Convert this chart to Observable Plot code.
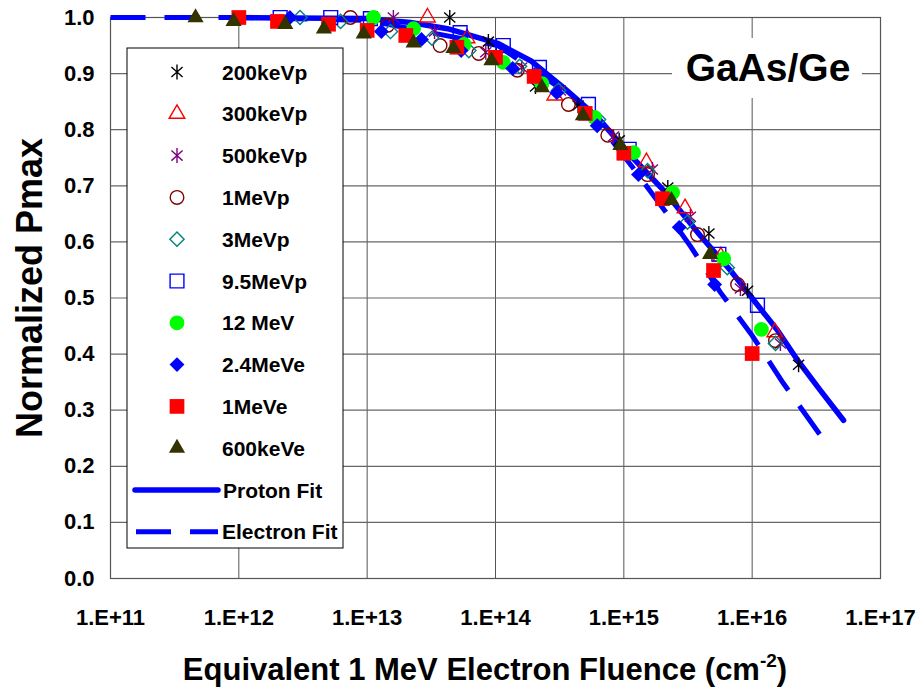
<!DOCTYPE html>
<html><head><meta charset="utf-8">
<script src="https://cdn.jsdelivr.net/npm/d3@7"></script>
<script src="https://cdn.jsdelivr.net/npm/@observablehq/plot@0.6"></script>
<style>
body{margin:0;background:#fff;}
#chart{width:922px;height:688px;}
</style></head><body><div id="chart"></div>
<script>
// ---- tick values ----
const xTicks = [1e11, 1e12, 1e13, 1e14, 1e15, 1e16, 1e17];
const yTicks = [0, 0.1, 0.2, 0.3, 0.4, 0.5, 0.6, 0.7, 0.8, 0.9, 1.0];

// ---- series: [fluence, normalized Pmax] ----
const p200keVp = [[4.4e13,1.0],[8.8e13,0.957],[2.05e14,0.877],[4.4e14,0.843],[9.2e14,0.781],[2.2e15,0.697],[4.6e15,0.615],[9.2e15,0.513],[2.3e16,0.381]];
const p300keVp = [[2.95e13,1.0],[6.0e13,0.963],[2.9e14,0.861],[1.5e15,0.742],[3.0e15,0.66],[5.7e15,0.574],[1.5e16,0.439]];
const p500keVp = [[1.6e13,1.0],[3.35e13,0.975],[8.4e13,0.938],[1.6e14,0.911],[3.2e14,0.87],[8.3e14,0.788],[1.67e15,0.729],[3.3e15,0.645],[8.1e15,0.517],[1.66e16,0.419]];
const p1MeVp = [[7.4e12,1.0],[1.44e13,0.986],[3.7e13,0.95],[7.4e13,0.936],[1.48e14,0.906],[3.7e14,0.845],[7.5e14,0.79],[1.53e15,0.72],[3.75e15,0.613],[7.7e15,0.524],[1.52e16,0.424]];
const p3MeVp = [[3.0e12,1.0],[6.2e12,0.993],[1.52e13,0.975],[3.2e13,0.963],[6.2e13,0.941],[1.54e14,0.913],[3.1e14,0.87],[6.35e14,0.818],[1.53e15,0.727],[3.13e15,0.635],[6.4e15,0.554],[1.52e16,0.419]];
const p9_5MeVp = [[2.1e12,1.0],[5.2e12,1.0],[1.06e13,0.998],[5.3e13,0.973],[1.15e14,0.95],[2.2e14,0.911],[5.3e14,0.845],[1.1e15,0.765],[5.5e15,0.578],[1.1e16,0.487]];
const p12MeV = [[1.12e13,1.0],[2.3e13,0.98],[5.7e13,0.952],[1.15e14,0.92],[2.3e14,0.882],[5.9e14,0.822],[1.19e15,0.759],[2.4e15,0.688],[6.0e15,0.57],[1.18e16,0.444]];
const e2_4MeVe = [[2.5e12,1.0],[1.29e13,0.975],[2.65e13,0.961],[5.4e13,0.941],[1.36e14,0.909],[3.0e14,0.866],[6.2e14,0.807],[1.3e15,0.72],[2.7e15,0.626],[5.1e15,0.524]];
const e1MeVe = [[1e12,1.0],[2e12,0.993],[5e12,0.988],[1e13,0.977],[2e13,0.968],[5e13,0.947],[1e14,0.929],[2e14,0.895],[5e14,0.829],[1e15,0.758],[2e15,0.677],[5e15,0.549],[1e16,0.401]];
const e600keVe = [[4.6e11,1.0],[9.1e11,0.993],[2.3e12,0.988],[4.6e12,0.98],[9.4e12,0.971],[2.3e13,0.955],[4.7e13,0.945],[9.3e13,0.923],[2.3e14,0.875],[4.8e14,0.825],[9.4e14,0.772],[2.35e15,0.674],[4.7e15,0.578]];

// ---- fits ----
const protonFit = [[1e12,1.0],[1e13,0.998],[2.18e13,0.991],[4.23e13,0.98],[1.04e14,0.954],[1.88e14,0.923],[3.39e14,0.875],[6.24e14,0.822],[1.13e15,0.754],[2.04e15,0.692],[3.95e15,0.611],[6.78e15,0.549],[1.03e16,0.496],[1.58e16,0.442],[2.26e16,0.389],[3.41e16,0.335],[5.15e16,0.282]];
const electronFit = [[1e11,1.0],[1e12,1.0],[1e13,0.995],[1.04e14,0.95],[3.39e14,0.87],[6.24e14,0.813],[1.17e15,0.733],[2.58e15,0.627],[3.31e15,0.592],[5.66e15,0.51],[1.0e16,0.433],[1.75e16,0.348],[3.41e16,0.255]];

// custom asterisk (vertical bar + X)
const star = {draw(ctx, size){
  const r = Math.sqrt(size / Math.PI);
  const dx = r * Math.cos(Math.PI/4.3), dy = r * Math.sin(Math.PI/4.3);
  ctx.moveTo(0,-r); ctx.lineTo(0,r);
  ctx.moveTo(-dx,-dy); ctx.lineTo(dx,dy);
  ctx.moveTo(-dx,dy); ctx.lineTo(dx,-dy);
}};

const seriesDefs = [
  {name:"200keVp", data:p200keVp, symbol:star, stroke:"#000000", r:7.5},
  {name:"300keVp", data:p300keVp, symbol:"triangle", stroke:"#FF0000", r:5.8},
  {name:"500keVp", data:p500keVp, symbol:star, stroke:"#800080", r:7.5},
  {name:"1MeVp", data:p1MeVp, symbol:"circle", stroke:"#800000", r:6.8},
  {name:"3MeVp", data:p3MeVp, symbol:"diamond2", stroke:"#008080", r:6.4},
  {name:"9.5MeVp", data:p9_5MeVp, symbol:"square", stroke:"#0000FF", r:7.8},
  {name:"12 MeV", data:p12MeV, symbol:"circle", fill:"#00FF00", r:7.4},
  {name:"2.4MeVe", data:e2_4MeVe, symbol:"diamond2", fill:"#0000FF", r:6.7},
  {name:"1MeVe", data:e1MeVe, symbol:"square", fill:"#FF0000", r:8.3},
  {name:"600keVe", data:e600keVe, symbol:"triangle", fill:"#333300", r:6}
];

const FONT = "'Liberation Sans', Arial, sans-serif";

const dotMarks = seriesDefs.map(s => Plot.dot(s.data, {
  x: d => d[0], y: d => d[1], symbol: s.symbol, r: s.r,
  fill: s.fill || "none", stroke: s.stroke || "none", strokeWidth: s.stroke ? 1.4 : 0
}));

const svg = Plot.plot({
  width: 922, height: 688,
  marginLeft: 110, marginRight: 42, marginTop: 17, marginBottom: 110,
  style: {fontFamily: FONT, fontWeight: "bold", color: "#000", background: "#fff"},
  x: {type: "log", domain: [1e11, 1e17]},
  y: {domain: [0, 1]},
  marks: [
    Plot.gridX(xTicks, {stroke: "#555", strokeOpacity: 1, strokeWidth: 1}),
    Plot.gridY(yTicks, {stroke: "#666", strokeOpacity: 1, strokeWidth: 1.2}),
    Plot.frame({stroke: "#555", strokeWidth: 1.2}),
    Plot.axisX(xTicks, {tickSize: 0, tickPadding: 31, fontSize: 22, fontWeight: "bold",
      tickFormat: d => "1.E+" + Math.round(Math.log10(d)), label: null}),
    Plot.axisY(yTicks, {tickSize: 0, tickPadding: 16, fontSize: 22, fontWeight: "bold",
      tickFormat: d => d.toFixed(1), label: null}),
    Plot.line(electronFit, {x: d => d[0], y: d => d[1], stroke: "#0000FF", strokeWidth: 5, strokeDasharray: "35,19", strokeLinecap: "butt"}),
    Plot.line(protonFit, {x: d => d[0], y: d => d[1], stroke: "#0000FF", strokeWidth: 5.5}),
    ...dotMarks
  ]
});

const root = d3.select(svg);

// GaAs/Ge label
root.append("rect").attr("x", 672).attr("y", 38).attr("width", 190).attr("height", 60).attr("fill", "#fff");
root.append("text").attr("x", 768).attr("y", 81).attr("text-anchor", "middle")
  .attr("font-family", FONT).attr("font-weight", "bold").attr("font-size", 39).attr("fill", "#000")
  .text("GaAs/Ge");

// Legend
const lg = root.append("g").attr("text-anchor", "start");
lg.append("rect").attr("x", 127).attr("y", 48).attr("width", 216).attr("height", 500)
  .attr("fill", "#fff").attr("stroke", "#000").attr("stroke-width", 1);
const rowY = i => 72 + i * 41.8;
seriesDefs.forEach((s, i) => {
  const y = rowY(i);
  const typ = typeof s.symbol === "string" ? {
    triangle: d3.symbolTriangle, circle: d3.symbolCircle, diamond2: d3.symbolDiamond2, square: d3.symbolSquare
  }[s.symbol] : s.symbol;
  lg.append("path").attr("d", d3.symbol(typ, Math.PI * s.r * s.r)())
    .attr("transform", `translate(177,${y})`)
    .attr("fill", s.fill || "none").attr("stroke", s.stroke || "none").attr("stroke-width", s.stroke ? 1.4 : 0);
  lg.append("text").attr("x", 222).attr("y", y + 7.5).attr("text-anchor", "start")
    .attr("font-family", FONT).attr("font-weight", "bold").attr("font-size", 21).attr("fill", "#000")
    .text(s.name);
});
const fy1 = rowY(10), fy2 = rowY(11);
lg.append("line").attr("x1", 135).attr("x2", 218).attr("y1", fy1).attr("y2", fy1)
  .attr("stroke", "#0000FF").attr("stroke-width", 5.5).attr("stroke-linecap", "round");
lg.append("text").attr("x", 223).attr("y", fy1 + 7.5).attr("text-anchor", "start").attr("font-family", FONT).attr("font-weight", "bold")
  .attr("font-size", 21).text("Proton Fit");
lg.append("line").attr("x1", 136).attr("x2", 218).attr("y1", fy2).attr("y2", fy2)
  .attr("stroke", "#0000FF").attr("stroke-width", 5).attr("stroke-dasharray", "35,19");
lg.append("text").attr("x", 222).attr("y", fy2 + 7.5).attr("text-anchor", "start").attr("font-family", FONT).attr("font-weight", "bold")
  .attr("font-size", 21).text("Electron Fit");

// Axis titles
const xt = root.append("text").attr("x", 485).attr("y", 680).attr("text-anchor", "middle")
  .attr("font-family", FONT).attr("font-weight", "bold").attr("font-size", 31).attr("fill", "#000");
xt.append("tspan").text("Equivalent 1 MeV Electron Fluence (cm");
xt.append("tspan").attr("font-size", 19).attr("dy", -13).text("-2");
xt.append("tspan").attr("dy", 13).text(")");

root.append("text").attr("transform", "translate(42,288) rotate(-90)").attr("text-anchor", "middle")
  .attr("font-family", FONT).attr("font-weight", "bold").attr("font-size", 36).attr("fill", "#000")
  .text("Normalized Pmax");

document.getElementById("chart").appendChild(svg);
</script></body></html>
